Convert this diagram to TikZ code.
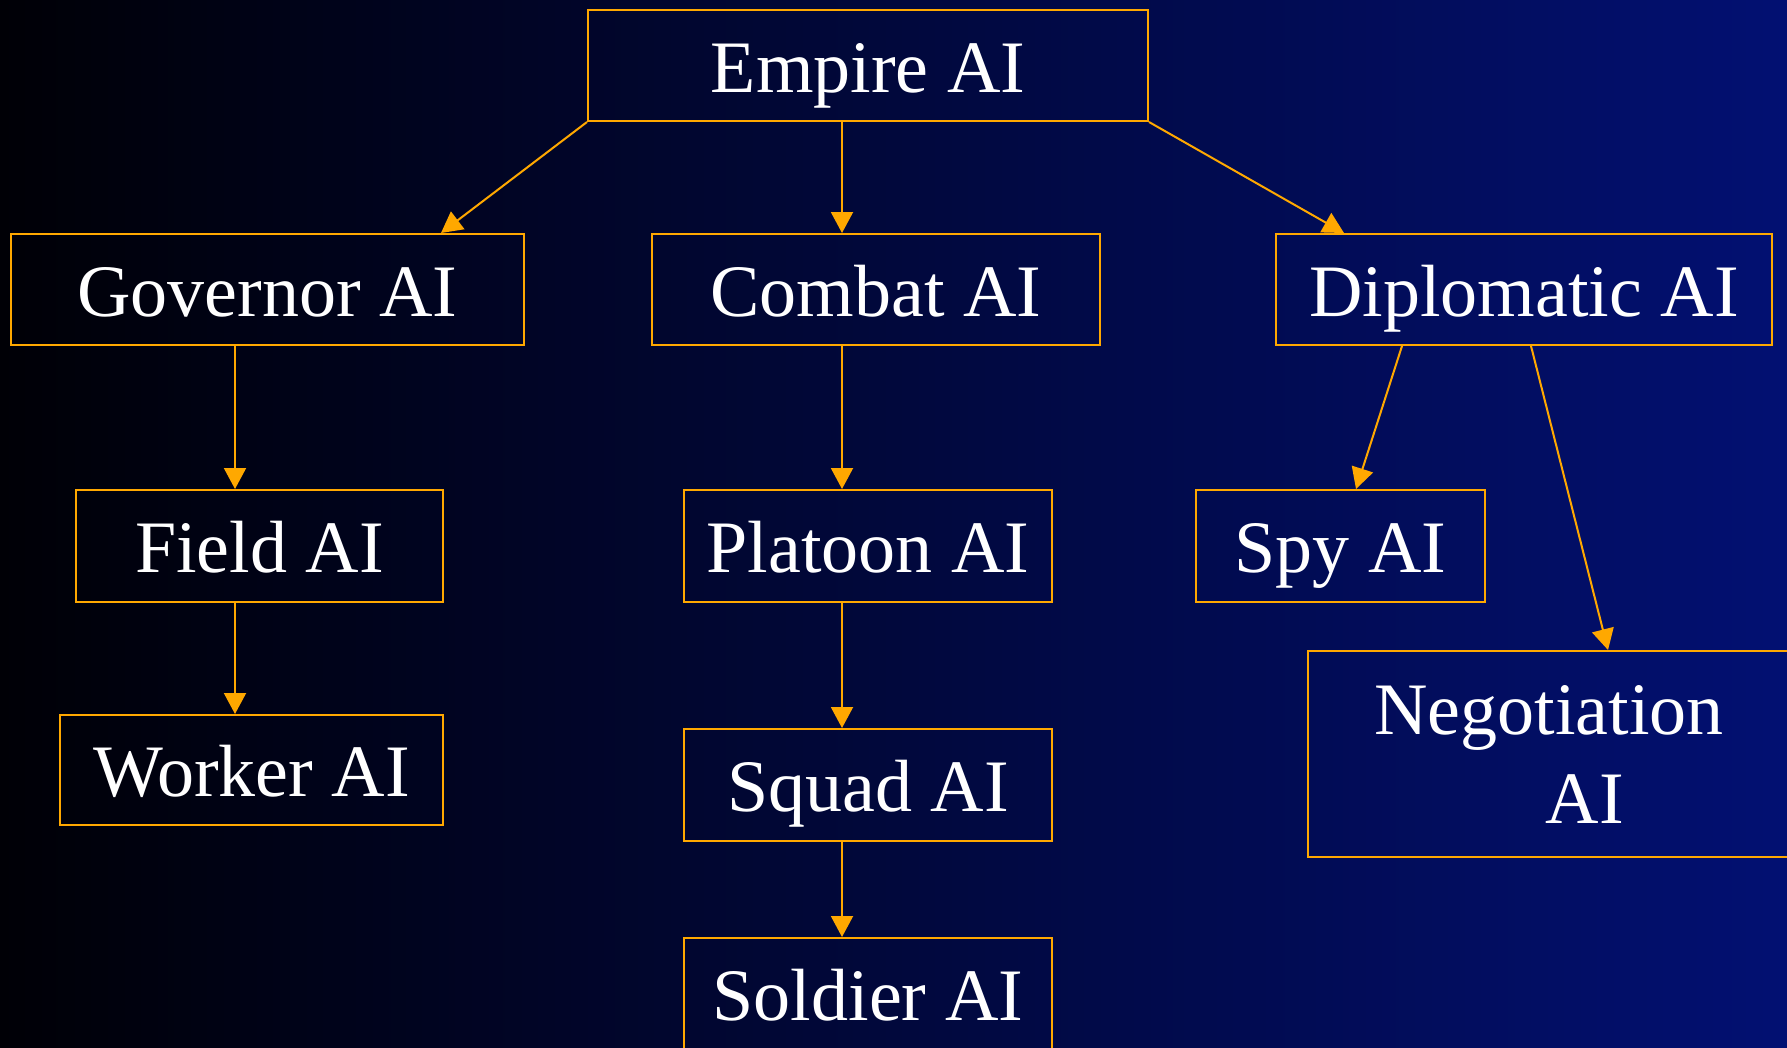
\documentclass[tikz,border=0pt]{standalone}
\usepackage{fontspec}
\setmainfont{Liberation Serif}
\usetikzlibrary{arrows.meta}
\definecolor{bgR}{RGB}{2,16,114}
\definecolor{bgL}{RGB}{0,0,6}
\definecolor{lineor}{RGB}{255,168,0}
\tikzset{
  box/.style={draw=lineor, line width=2pt, inner sep=0pt, text=white,
    font=\fontsize{74}{89}\selectfont, text height=53pt, text depth=0pt},
  arr/.style={draw=lineor, line width=2pt, -{Triangle[width=22pt,length=21pt]}}
}
\begin{document}
\begin{tikzpicture}[x=1pt,y=-1pt]
\useasboundingbox (0,0) rectangle (1787,1047);
\clip (0,0) rectangle (1787,1047);
\shade[left color=bgL, right color=bgR] (0,0) rectangle (1787,1047);

\node[box, minimum width=560pt, minimum height=111pt] (emp) at (868,65.5) {Empire AI};
\node[box, minimum width=513pt, minimum height=111pt] (gov) at (267.5,289.5) {Governor AI};
\node[box, minimum width=448pt, minimum height=111pt] (comb) at (876,289.5) {Combat AI};
\node[box, minimum width=496pt, minimum height=111pt] (dipl) at (1524,289.5) {Diplomatic AI};
\node[box, minimum width=367pt, minimum height=112pt] (field) at (259.5,546) {Field AI};
\node[box, minimum width=368pt, minimum height=112pt] (plat) at (868,546) {Platoon AI};
\node[box, minimum width=289pt, minimum height=112pt] (spy) at (1340.5,546) {Spy AI};
\node[box, minimum width=383pt, minimum height=110pt] (work) at (251.5,770) {Worker AI};
\node[box, minimum width=368pt, minimum height=112pt] (squad) at (868,785) {Squad AI};
\node[box, minimum width=368pt, minimum height=112pt] (sold) at (868,994) {Soldier AI};
\node[draw=lineor, line width=2pt, inner sep=0pt, text=white, font=\fontsize{74}{89}\selectfont,
  align=center, minimum width=482pt, minimum height=206pt] (neg) at (1549,754)
  {Negotiation\\\hspace*{72pt}AI};

\draw[arr] (emp.south west) -- ([xshift=431pt]gov.north west);
\draw[arr] ([xshift=255pt]emp.south west) -- ([xshift=191pt]comb.north west);
\draw[arr] (emp.south east) -- ([xshift=69pt]dipl.north west);
\draw[arr] ([xshift=225pt]gov.south west) -- ([xshift=160pt]field.north west);
\draw[arr] ([xshift=160pt]field.south west) -- ([xshift=176pt]work.north west);
\draw[arr] ([xshift=191pt]comb.south west) -- ([xshift=159pt]plat.north west);
\draw[arr] ([xshift=159pt]plat.south west) -- ([xshift=159pt]squad.north west);
\draw[arr] ([xshift=159pt]squad.south west) -- ([xshift=159pt]sold.north west);
\draw[arr] ([xshift=127pt]dipl.south west) -- ([xshift=161pt]spy.north west);
\draw[arr] ([xshift=256pt]dipl.south west) -- ([xshift=301pt]neg.north west);
\end{tikzpicture}
\end{document}
